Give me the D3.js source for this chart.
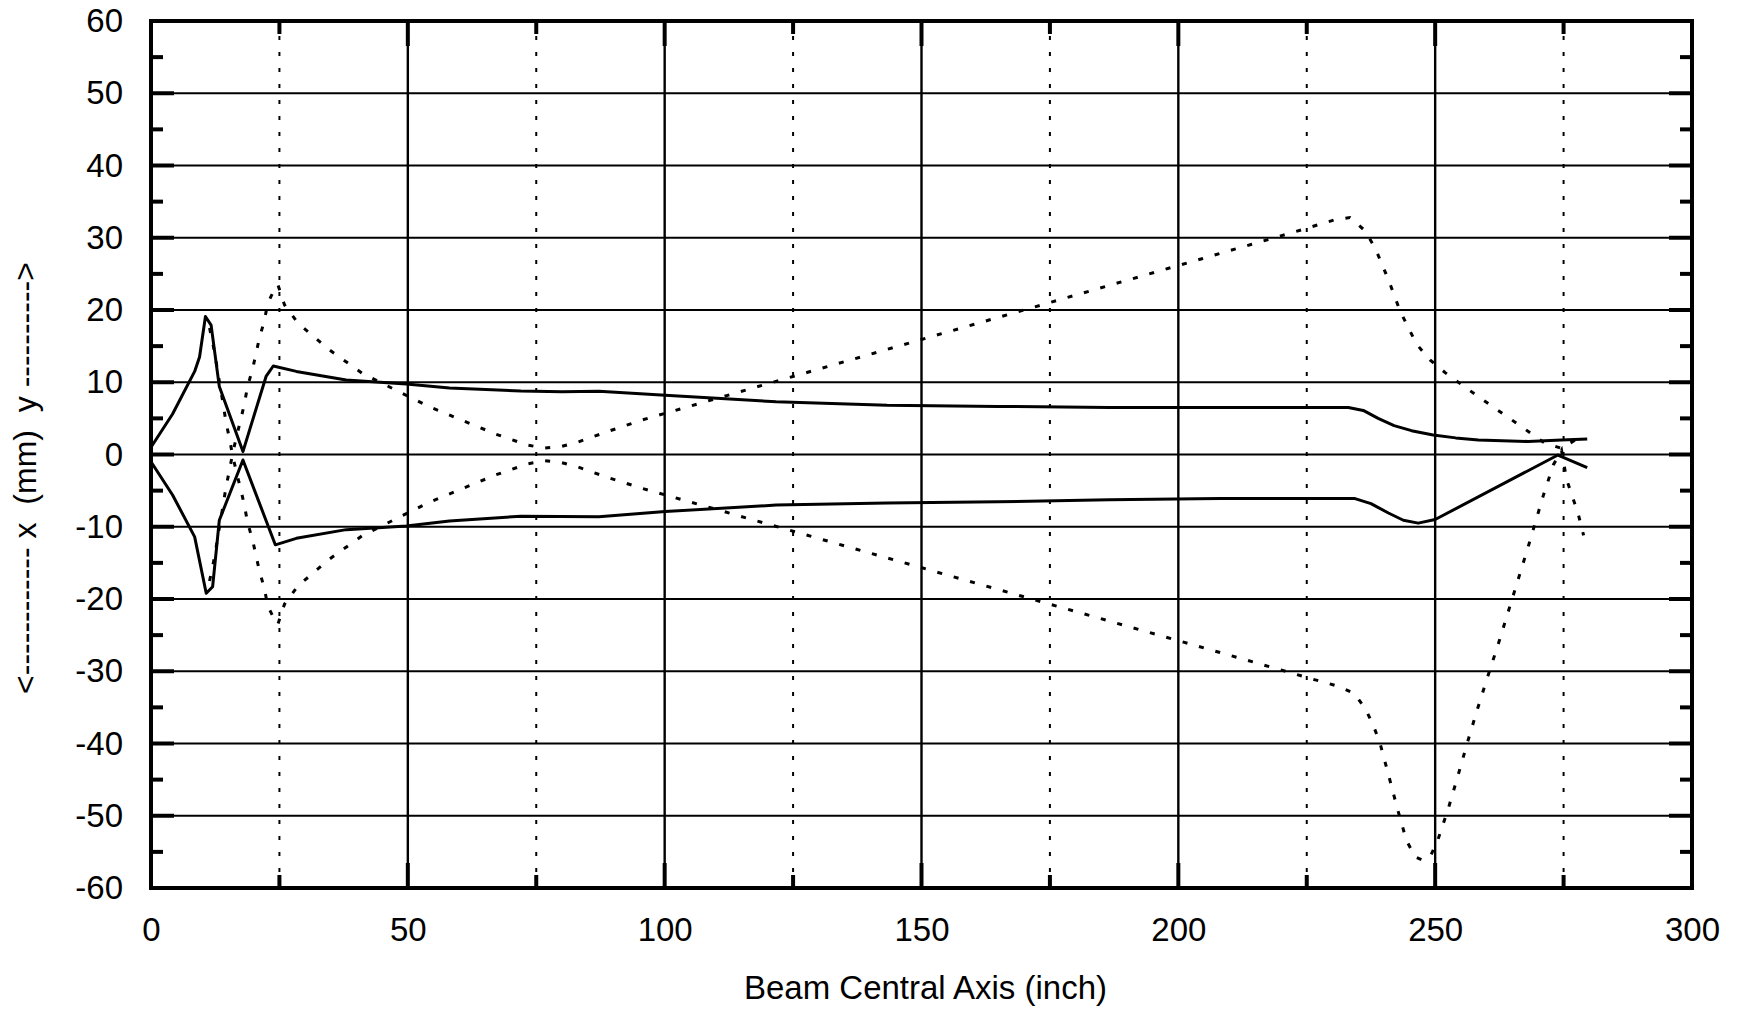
<!DOCTYPE html>
<html>
<head>
<meta charset="utf-8">
<script src="https://cdn.jsdelivr.net/npm/d3@7"></script>
<style>
  body { margin: 0; background: #fff; }
  svg text { font-family: "Liberation Sans", Arial, sans-serif; fill: #000; }
</style>
</head>
<body>
<svg id="chart" width="1741" height="1012"></svg>
<script>
// tick values
const xTickLabels = [0, 50, 100, 150, 200, 250, 300];
const xDottedGrid = [25, 75, 125, 175, 225, 275];
const yTickLabels = [-60, -50, -40, -30, -20, -10, 0, 10, 20, 30, 40, 50, 60];
const yMinorTicks = [-55, -45, -35, -25, -15, -5, 5, 15, 25, 35, 45, 55];

// solid envelope, upper (y side)
const solidUpper = [[0,1.0],[4.2,5.6],[8.5,11.5],[9.45,13.5],[10.6,19.1],[11.7,17.9],[13.3,9.4],[17.9,0.4],
  [22.4,10.8],[23.8,12.25],[28.3,11.5],[38.0,10.3],[49.7,9.75],[58.1,9.2],[72.0,8.8],[80,8.7],[87.2,8.75],
  [100.1,8.2],[121.7,7.3],[143.3,6.8],[164.9,6.66],[186.5,6.5],[208.1,6.5],[233.1,6.5],[236,6.1],[238.9,5.0],
  [242,4.0],[245.4,3.3],[249.6,2.7],[254,2.3],[258.4,2.0],[268.1,1.8],[274.6,2.0],[279.6,2.15]];

// solid envelope, lower (x side)
const solidLower = [[0,-1.0],[4.2,-5.6],[8.5,-11.4],[10.75,-19.2],[12.0,-18.3],[13.3,-9.1],[17.9,-0.76],
  [24.2,-12.5],[28.3,-11.6],[38.0,-10.4],[49.7,-9.9],[58.1,-9.2],[72.0,-8.55],[87.2,-8.6],[100.1,-7.9],
  [121.7,-7.0],[143.3,-6.7],[164.9,-6.55],[186.5,-6.25],[208.1,-6.1],[234.4,-6.1],[237.5,-6.8],[240.9,-8.1],
  [243.8,-9.1],[246.7,-9.5],[250,-9.0],[273.9,-0.07],[279.6,-1.8]];

// dotted ray, peaks +23 at 25 and +33 at 233
const dottedUpper = [[11.4,-17.5],[12.4,-14.1],[13.0,-11.4],[14.0,-7.2],[14.6,-4.5],[15.3,-2.1],[15.9,0.2],
  [16.9,3.2],[17.6,5.2],[18.2,7.1],[18.8,9.4],[19.8,11.9],[21.1,16.1],[22.1,18.6],[22.7,20.9],[24.0,22.8],
  [24.7,23.5],[26.0,20.7],[28.6,18.2],[34.7,14.5],[41.2,11.2],[47.7,8.9],[54.2,6.6],[60.7,4.7],[67.2,2.8],
  [73.3,1.3],[76.5,0.9],[79.8,1.1],[83.0,1.7],[89.2,3.25],[95.7,4.8],[204.6,27.1],[214.3,29.1],[224.0,31.1],
  [230.5,32.5],[233.4,32.8],[236.3,31.0],[238.3,28.6],[240.9,24.2],[243.2,19.8],[246.4,15.25],[249.0,13.1],
  [252.0,11.3],[258.4,8.0],[264.9,4.8],[271.4,1.55],[274.6,0.86],[278.2,2.4]];

// dotted ray, dips -23 at 25 and -56 at 247
const dottedLower = [[11.4,17.5],[12.4,14.1],[13.0,11.4],[14.0,7.2],[14.6,4.5],[15.3,2.1],[15.9,-0.2],
  [16.9,-3.2],[17.6,-5.2],[18.2,-7.1],[18.8,-9.4],[19.8,-11.9],[21.1,-16.1],[22.1,-18.6],[22.7,-20.9],
  [24.0,-22.8],[24.7,-23.5],[26.0,-20.7],[28.6,-18.2],[34.7,-14.5],[41.2,-11.2],[47.7,-8.9],[54.2,-6.6],
  [60.7,-4.7],[67.2,-2.8],[73.3,-1.3],[76.5,-0.86],[79.8,-1.1],[83.0,-1.7],[89.2,-3.25],[95.7,-4.7],
  [215.0,-28.8],[224.7,-30.8],[231.2,-32.1],[234.3,-33.1],[236.5,-35.3],[238.0,-37.6],[239.2,-39.8],
  [240.9,-44.3],[242.6,-48.9],[244.4,-53.4],[246.1,-55.7],[247.4,-56.1],[249.0,-55.7],[250.5,-53.4],
  [252.6,-48.9],[254.5,-44.3],[256.3,-39.8],[258.2,-35.3],[260.2,-30.8],[262.3,-26.2],[268.1,-12.8],
  [271.0,-5.8],[273.0,-1.45],[274.6,0.6],[275.6,-3.5],[277.8,-8.1],[278.9,-11.2]];

const margin = {top: 21, right: 49, bottom: 124, left: 151};
const width = 1741, height = 1012;

const svg = d3.select("#chart");

const x = d3.scaleLinear().domain([0, 300]).range([margin.left, width - margin.right]);
const y = d3.scaleLinear().domain([-60, 60]).range([height - margin.bottom, margin.top]);

const g = svg.append("g");

// horizontal grid
g.append("g")
  .selectAll("line")
  .data(yTickLabels)
  .join("line")
    .attr("x1", x(0)).attr("x2", x(300))
    .attr("y1", d => y(d)).attr("y2", d => y(d))
    .attr("stroke", "#000").attr("stroke-width", 2.2);

// vertical solid grid
g.append("g")
  .selectAll("line")
  .data(xTickLabels.slice(1, -1))
  .join("line")
    .attr("x1", d => x(d)).attr("x2", d => x(d))
    .attr("y1", y(-60)).attr("y2", y(60))
    .attr("stroke", "#000").attr("stroke-width", 2.4);

// vertical dotted grid
g.append("g")
  .selectAll("line")
  .data(xDottedGrid)
  .join("line")
    .attr("x1", d => x(d)).attr("x2", d => x(d))
    .attr("y1", y(-60)).attr("y2", y(60))
    .attr("stroke", "#000").attr("stroke-width", 2)
    .attr("stroke-dasharray", "4,12");

// inward ticks: major and minor, all four sides
function tickLines(sel, vals, len, side) {
  sel.append("g")
    .selectAll("line")
    .data(vals)
    .join("line")
      .attr("x1", d => side === "left" ? x(0) : side === "right" ? x(300) : x(d))
      .attr("x2", d => side === "left" ? x(0) + len : side === "right" ? x(300) - len : x(d))
      .attr("y1", d => side === "bottom" ? y(-60) : side === "top" ? y(60) : y(d))
      .attr("y2", d => side === "bottom" ? y(-60) - len : side === "top" ? y(60) + len : y(d))
      .attr("stroke", "#000").attr("stroke-width", 4);
}
tickLines(g, yTickLabels, 23, "left");
tickLines(g, yMinorTicks, 12, "left");
tickLines(g, yTickLabels, 23, "right");
tickLines(g, yMinorTicks, 12, "right");
tickLines(g, xTickLabels, 25, "bottom");
tickLines(g, xDottedGrid, 13, "bottom");
tickLines(g, xTickLabels, 25, "top");
tickLines(g, xDottedGrid, 13, "top");

// curves
const line = d3.line().x(d => x(d[0])).y(d => y(d[1]));

g.append("path").datum(dottedUpper)
  .attr("d", line).attr("fill", "none").attr("stroke", "#000")
  .attr("stroke-width", 3).attr("stroke-dasharray", "5,12");
g.append("path").datum(dottedLower)
  .attr("d", line).attr("fill", "none").attr("stroke", "#000")
  .attr("stroke-width", 3).attr("stroke-dasharray", "5,12");
g.append("path").datum(solidUpper)
  .attr("d", line).attr("fill", "none").attr("stroke", "#000")
  .attr("stroke-width", 3).attr("stroke-linejoin", "round");
g.append("path").datum(solidLower)
  .attr("d", line).attr("fill", "none").attr("stroke", "#000")
  .attr("stroke-width", 3).attr("stroke-linejoin", "round");

// frame
g.append("rect")
  .attr("x", x(0)).attr("y", y(60))
  .attr("width", x(300) - x(0)).attr("height", y(-60) - y(60))
  .attr("fill", "none").attr("stroke", "#000").attr("stroke-width", 4);

// axis labels (plain hyphen minus like the original)
const fmt = d => String(d);

const xAxis = svg.append("g")
  .attr("transform", `translate(0,${y(-60)})`)
  .call(d3.axisBottom(x).tickValues(xTickLabels).tickSize(0).tickPadding(30).tickFormat(fmt));
xAxis.select(".domain").remove();
xAxis.selectAll("text").attr("font-size", 33).attr("font-family", "Liberation Sans, Arial, sans-serif");

const yAxis = svg.append("g")
  .attr("transform", `translate(${x(0)},0)`)
  .call(d3.axisLeft(y).tickValues(yTickLabels).tickSize(0).tickPadding(28).tickFormat(fmt));
yAxis.select(".domain").remove();
yAxis.selectAll("text").attr("font-size", 33).attr("font-family", "Liberation Sans, Arial, sans-serif");

svg.append("text")
  .attr("x", (x(0) + x(300)) / 2 + 4)
  .attr("y", 999)
  .attr("text-anchor", "middle")
  .attr("font-size", 33)
  .text("Beam Central Axis (inch)");

svg.append("text")
  .attr("transform", "translate(36,478) rotate(-90)")
  .attr("text-anchor", "middle")
  .attr("font-size", 32)
  .attr("xml:space", "preserve")
  .style("white-space", "pre")
  .text("<------------ x  (mm)  y ---------->");
</script>
</body>
</html>
